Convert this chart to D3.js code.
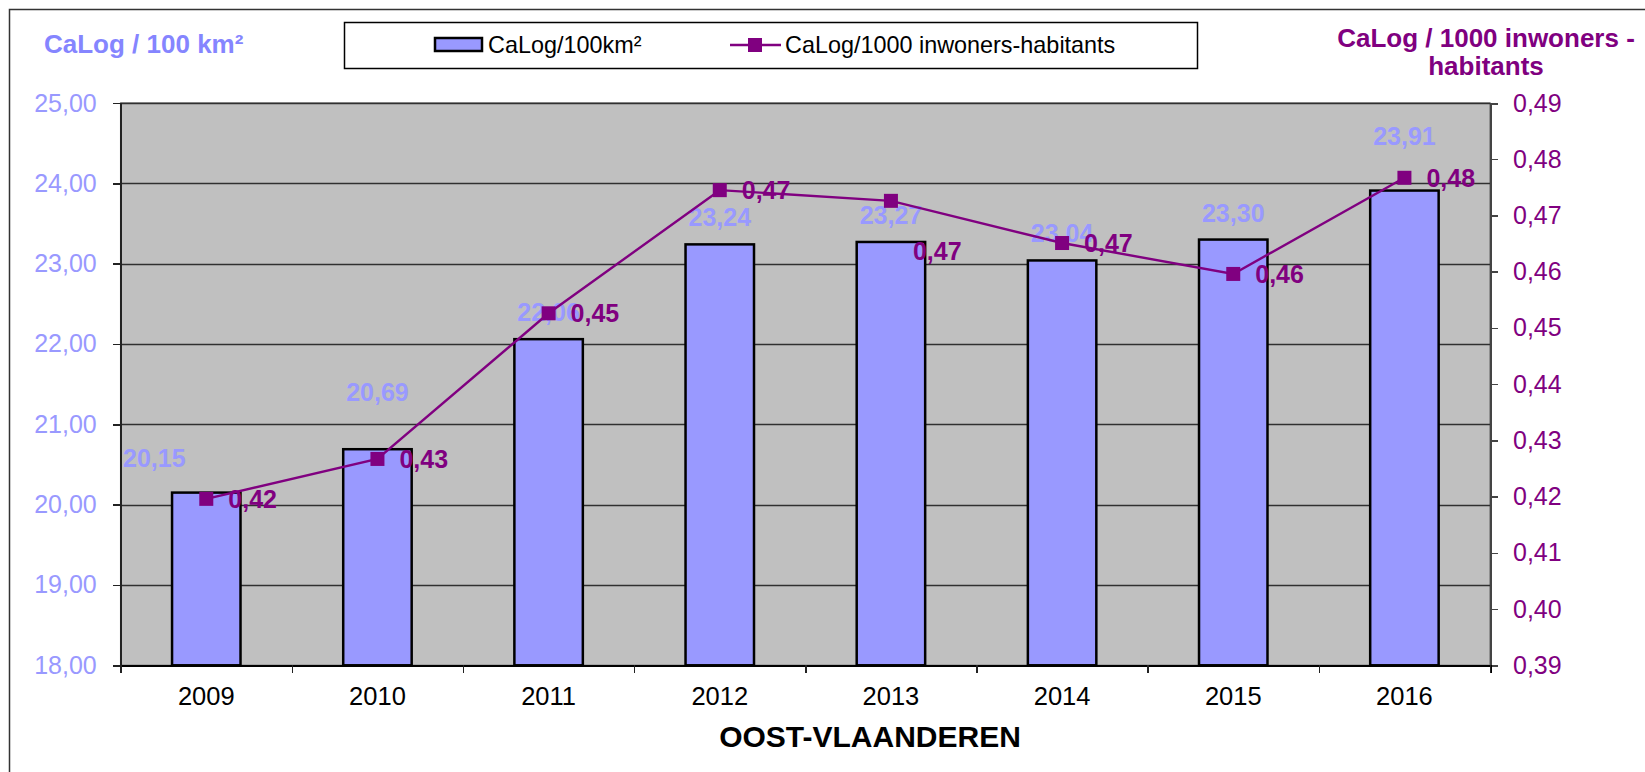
<!DOCTYPE html>
<meta charset="utf-8">
<head>
  <title>CaLog Oost-Vlaanderen</title>
</head>
<style>
body { margin: 0; background: #fff; }
svg text { font-family: "Liberation Sans", Arial, sans-serif; }
.axis path, .axis line { shape-rendering: crispEdges; }
</style>
<body>
<script src="https://cdn.jsdelivr.net/npm/d3@7"></script>
<script>
// data
var years = ["2009", "2010", "2011", "2012", "2013", "2014", "2015", "2016"]
var perArea = [20.15, 20.69, 22.06, 23.24, 23.27, 23.04, 23.30, 23.91]   // CaLog / 100 km²
var perPop = [0.4196, 0.4267, 0.4526, 0.4745, 0.4726, 0.4651, 0.4596, 0.4767] // CaLog / 1000 inwoners
var leftTicks = [18, 19, 20, 21, 22, 23, 24, 25]
var rightTicks = [0.39, 0.40, 0.41, 0.42, 0.43, 0.44, 0.45, 0.46, 0.47, 0.48, 0.49]

// a few labels were dragged by hand in the original
var barLabelNudge = [[-52, -8], [0, -30], [0, 0], [0, 0], [0, 0], [0, 0], [0, 0], [0, -28]]
var lineLabelNudge = [[0, 0], [0, 0], [0, 0], [0, 0], [0, 50], [0, 0], [0, 0], [0, 0]]

var width = 1645, height = 772
var plot = {left: 120.7, right: 1490, top: 103, bottom: 665.3}

var blue = "#9999FF", purple = "#800080"
var fmt = function(d) { return d.toFixed(2).replace(".", ",") }

var svg = d3.select("body").append("svg")
    .attr("width", width)
    .attr("height", height)

// outer chart frame (right / bottom edges fall outside the window)
svg.append("rect")
    .attr("x", 9.5).attr("y", 9.5)
    .attr("width", 1800).attr("height", 900)
    .attr("fill", "none")
    .attr("stroke", "#333")
    .attr("stroke-width", 1.5)

var x = d3.scaleBand()
    .domain(years)
    .range([plot.left, plot.right])
    .paddingInner(0.6)
    .paddingOuter(0.3)

var xEdge = d3.scaleLinear()
    .domain([0, years.length])
    .range([plot.left, plot.right])

var yL = d3.scaleLinear().domain([18, 25]).range([plot.bottom, plot.top])
var yR = d3.scaleLinear().domain([0.39, 0.49]).range([plot.bottom, plot.top])

// plot area
svg.append("rect")
    .attr("x", plot.left).attr("y", plot.top)
    .attr("width", plot.right - plot.left)
    .attr("height", plot.bottom - plot.top)
    .attr("fill", "#C0C0C0")
    .attr("stroke", "#808080")
    .attr("stroke-width", 1.5)

svg.append("g")
  .selectAll("line")
    .data(leftTicks.slice(1))
  .enter().append("line")
    .attr("x1", plot.left).attr("x2", plot.right)
    .attr("y1", function(d) { return Math.round(yL(d)) + 0.5 })
    .attr("y2", function(d) { return Math.round(yL(d)) + 0.5 })
    .attr("stroke", "#303030")
    .attr("stroke-width", 1.3)

// bars
svg.append("g")
  .selectAll("rect")
    .data(perArea)
  .enter().append("rect")
    .attr("x", function(d, i) { return x(years[i]) })
    .attr("y", function(d) { return yL(d) })
    .attr("width", x.bandwidth())
    .attr("height", function(d) { return yL(18) - yL(d) })
    .attr("fill", blue)
    .attr("stroke", "#000")
    .attr("stroke-width", 2.5)

// bar value labels
svg.append("g")
  .selectAll("text")
    .data(perArea)
  .enter().append("text")
    .attr("x", function(d, i) { return x(years[i]) + x.bandwidth() / 2 + barLabelNudge[i][0] })
    .attr("y", function(d, i) { return yL(d) - 18 + barLabelNudge[i][1] })
    .attr("text-anchor", "middle")
    .attr("fill", blue)
    .style("font-size", "25px")
    .style("font-weight", "bold")
    .text(fmt)

// axes
var leftAxis = svg.append("g")
    .attr("class", "axis")
    .attr("transform", "translate(" + plot.left + ",0)")
    .call(d3.axisLeft(yL).tickValues(leftTicks).tickSize(8).tickPadding(16).tickFormat(fmt))
leftAxis.select(".domain").attr("stroke", "#222").attr("stroke-width", 1.5)
leftAxis.selectAll("line").attr("stroke", "#222").attr("stroke-width", 1.5)
leftAxis.selectAll("text").attr("fill", blue).style("font-size", "25px")

var rightAxis = svg.append("g")
    .attr("class", "axis")
    .attr("transform", "translate(" + plot.right + ",0)")
    .call(d3.axisRight(yR).tickValues(rightTicks).tickSize(8).tickPadding(15).tickFormat(fmt))
rightAxis.select(".domain").attr("stroke", "#444").attr("stroke-width", 2)
rightAxis.selectAll("line").attr("stroke", "#444").attr("stroke-width", 1.5)
rightAxis.selectAll("text").attr("fill", purple).style("font-size", "25px")

var bottomTicks = svg.append("g")
    .attr("class", "axis")
    .attr("transform", "translate(0," + plot.bottom + ")")
    .call(d3.axisBottom(xEdge).ticks(years.length).tickSize(8).tickFormat(""))
bottomTicks.select(".domain").attr("stroke", "#000").attr("stroke-width", 2)
bottomTicks.selectAll("line").attr("stroke", "#222").attr("stroke-width", 1.5)

var bottomLabels = svg.append("g")
    .attr("transform", "translate(0," + plot.bottom + ")")
    .call(d3.axisBottom(x).tickSize(0).tickPadding(22))
bottomLabels.select(".domain").remove()
bottomLabels.selectAll("text").attr("fill", "#000").style("font-size", "25.5px")

// line series on the right axis
var line = d3.line()
    .x(function(d, i) { return x(years[i]) + x.bandwidth() / 2 })
    .y(function(d) { return yR(d) })

svg.append("path")
    .datum(perPop)
    .attr("d", line)
    .attr("fill", "none")
    .attr("stroke", purple)
    .attr("stroke-width", 2.4)

svg.append("g")
  .selectAll("rect")
    .data(perPop)
  .enter().append("rect")
    .attr("x", function(d, i) { return x(years[i]) + x.bandwidth() / 2 - 7 })
    .attr("y", function(d) { return yR(d) - 7 })
    .attr("width", 14).attr("height", 14)
    .attr("fill", purple)

svg.append("g")
  .selectAll("text")
    .data(perPop)
  .enter().append("text")
    .attr("x", function(d, i) { return x(years[i]) + x.bandwidth() / 2 + 22 + lineLabelNudge[i][0] })
    .attr("y", function(d, i) { return yR(d) + 9 + lineLabelNudge[i][1] })
    .attr("fill", purple)
    .style("font-size", "25px")
    .style("font-weight", "bold")
    .text(fmt)

// axis titles
svg.append("text")
    .attr("x", 44).attr("y", 53)
    .attr("fill", "#8585FF")
    .style("font-size", "26px")
    .style("font-weight", "bold")
    .text("CaLog / 100 km²")

var rTitle = svg.append("text")
    .attr("text-anchor", "middle")
    .attr("fill", purple)
    .style("font-size", "26px")
    .style("font-weight", "bold")
rTitle.append("tspan").attr("x", 1486).attr("y", 47).text("CaLog / 1000 inwoners -")
rTitle.append("tspan").attr("x", 1486).attr("y", 75).text("habitants")

svg.append("text")
    .attr("x", 870).attr("y", 747)
    .attr("text-anchor", "middle")
    .attr("fill", "#000")
    .style("font-size", "30px")
    .style("font-weight", "bold")
    .text("OOST-VLAANDEREN")

// legend
var legend = svg.append("g")
legend.append("rect")
    .attr("x", 344.5).attr("y", 22.5)
    .attr("width", 853).attr("height", 46)
    .attr("fill", "#fff")
    .attr("stroke", "#000")
    .attr("stroke-width", 1.5)
legend.append("rect")
    .attr("x", 435).attr("y", 38)
    .attr("width", 47).attr("height", 13)
    .attr("fill", blue)
    .attr("stroke", "#000")
    .attr("stroke-width", 2.5)
legend.append("text")
    .attr("x", 488).attr("y", 53)
    .style("font-size", "23.4px")
    .text("CaLog/100km²")
legend.append("line")
    .attr("x1", 730).attr("x2", 781)
    .attr("y1", 45).attr("y2", 45)
    .attr("stroke", purple)
    .attr("stroke-width", 2.5)
legend.append("rect")
    .attr("x", 748).attr("y", 38)
    .attr("width", 14).attr("height", 14)
    .attr("fill", purple)
legend.append("text")
    .attr("x", 785).attr("y", 53)
    .style("font-size", "23.4px")
    .text("CaLog/1000 inwoners-habitants")
</script>
</body>
